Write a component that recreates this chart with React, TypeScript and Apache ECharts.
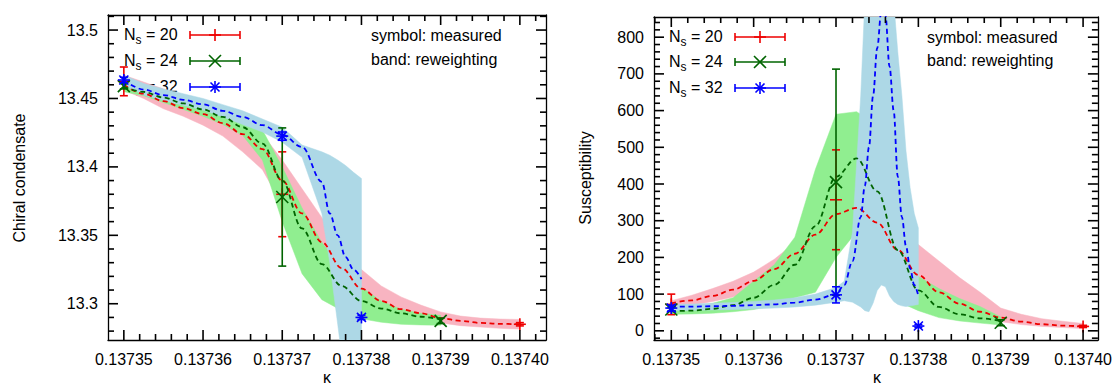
import React, { useEffect, useRef } from 'react';
import * as echarts from 'echarts';

const FONT = 'Liberation Sans';

// ---------------- kappa grids ----------------
const kappa20 = [0.13735, 0.1373525, 0.137355, 0.1373575, 0.13736, 0.1373625, 0.137365, 0.1373675, 0.13737, 0.1373725, 0.137375, 0.1373775, 0.13738, 0.1373825, 0.137385, 0.1373875, 0.13739, 0.1373925, 0.137395, 0.1373975, 0.1374];
const kappa24 = [0.13735, 0.1373525, 0.137355, 0.1373575, 0.13736, 0.1373625, 0.137365, 0.1373675, 0.13737, 0.1373725, 0.137375, 0.1373775, 0.13738, 0.1373825, 0.137385, 0.1373875, 0.13739];
const kappa32L = [0.13735, 0.1373525, 0.137355, 0.1373575, 0.13736, 0.1373625, 0.137365, 0.1373675, 0.13737, 0.1373725, 0.137375, 0.137376, 0.137377, 0.137378, 0.137379, 0.13738];
const kappa32R = [0.13735, 0.1373525, 0.137355, 0.1373575, 0.13736, 0.1373625, 0.137365, 0.1373675, 0.13737, 0.137371, 0.137372, 0.137373, 0.1373735, 0.137374, 0.1373745, 0.137375, 0.1373755, 0.137376, 0.1373765, 0.137377, 0.1373775, 0.137378, 0.1373785, 0.137379, 0.1373795, 0.13738];

// major tick values (four minor ticks between neighbours)
const kappaTicks = [0.13735, 0.13736, 0.13737, 0.13738, 0.13739, 0.1374];
const condTicks = [13.3, 13.35, 13.4, 13.45, 13.5];
const suscTicks = [0, 100, 200, 300, 400, 500, 600, 700, 800];

// ---------------- left panel: chiral condensate ----------------
const condLine20 = [13.46, 13.4535, 13.448, 13.443, 13.4385, 13.432, 13.424, 13.413, 13.39, 13.366, 13.345, 13.326, 13.311, 13.302, 13.296, 13.293, 13.2895, 13.2875, 13.286, 13.2853, 13.285];
const condLo20 = [13.456, 13.45, 13.4425, 13.437, 13.4305, 13.4225, 13.411, 13.398, 13.372, 13.348, 13.33, 13.313, 13.3, 13.294, 13.29, 13.288, 13.286, 13.284, 13.283, 13.282, 13.2815];
const condHi20 = [13.467, 13.462, 13.457, 13.452, 13.447, 13.441, 13.434, 13.424, 13.405, 13.384, 13.363, 13.343, 13.325, 13.313, 13.305, 13.299, 13.294, 13.291, 13.2895, 13.2888, 13.2885];
const condLine24 = [13.4585, 13.4548, 13.4507, 13.4464, 13.442, 13.4365, 13.429, 13.417, 13.39, 13.355, 13.329, 13.313, 13.302, 13.2965, 13.293, 13.2905, 13.2885];
const condLo24 = [13.455, 13.452, 13.447, 13.442, 13.437, 13.431, 13.423, 13.405, 13.36, 13.322, 13.303, 13.295, 13.289, 13.2865, 13.285, 13.2845, 13.2843];
const condHi24 = [13.462, 13.459, 13.455, 13.45, 13.4455, 13.441, 13.436, 13.427, 13.4, 13.37, 13.345, 13.325, 13.312, 13.302, 13.296, 13.293, 13.2915];
const condLine32 = [13.4635, 13.4565, 13.4525, 13.449, 13.4457, 13.441, 13.4365, 13.4305, 13.4235, 13.4145, 13.389, 13.366, 13.35, 13.334, 13.325, 13.318];
const condLo32 = [13.46, 13.4525, 13.4485, 13.445, 13.4415, 13.4365, 13.431, 13.4255, 13.418, 13.407, 13.366, 13.33, 13.285, 13.24, 13.2, 13.17];
const condHi32 = [13.467, 13.461, 13.457, 13.4535, 13.45, 13.4455, 13.441, 13.435, 13.429, 13.416, 13.411, 13.4085, 13.405, 13.401, 13.396, 13.3915];
// measured points: [kappa, value, error]
const condPts20 = [[0.13735, 13.4625, 0.0105], [0.13737, 13.38, 0.031], [0.1374, 13.285, 0.0012]];
const condPts24 = [[0.13735, 13.459, 0.002], [0.13737, 13.378, 0.0505], [0.13739, 13.2875, 0.002]];
const condPts32 = [[0.13735, 13.4635, 0.002], [0.13737, 13.4225, 0.003], [0.13738, 13.29, 0.0015]];

// ---------------- right panel: susceptibility ----------------
const suscLine20 = [75, 83, 95, 112, 136, 168, 210, 262, 318, 335, 295, 220, 152, 105, 74, 52, 36, 25, 18, 14, 12];
const suscLo20 = [64, 70, 80, 92, 108, 128, 158, 200, 265, 282, 262, 165, 115, 80, 55, 40, 25, 17, 12, 9, 6];
const suscHi20 = [82, 97, 115, 135, 160, 195, 240, 300, 355, 360, 335, 290, 235, 190, 145, 105, 62, 45, 33, 26, 20];
const suscLine24 = [53, 55, 60, 70, 90, 125, 180, 285, 420, 470, 380, 220, 110, 65, 45, 34, 27];
const suscLo24 = [45, 46, 48, 52, 58, 70, 90, 105, 200, 270, 200, 80, 55, 36, 27, 21, 16];
const suscHi24 = [62, 66, 75, 90, 135, 180, 255, 440, 590, 597, 560, 260, 148, 115, 88, 66, 38];
const suscLine32 = [66, 66, 67, 68, 70, 72, 77, 85, 100, 125, 190, 310, 395, 500, 640, 770, 870, 860, 720, 600, 420, 310, 230, 170, 125, 95];
const suscLo32 = [55, 56, 57, 58, 60, 62, 65, 70, 78, 82, 78, 65, 55, 52, 75, 110, 125, 120, 95, 80, 72, 68, 66, 68, 70, 72];
const suscHi32 = [72, 73, 75, 77, 80, 84, 90, 100, 118, 135, 270, 640, 900, 900, 900, 900, 900, 900, 900, 900, 760, 640, 490, 390, 320, 280];
const suscPts20 = [[0.13735, 72, 28], [0.13737, 357, 136], [0.1374, 12, 3]];
const suscPts24 = [[0.13735, 58, 5], [0.13737, 405, 308], [0.13739, 22, 8]];
const suscPts32 = [[0.13735, 62, 8], [0.13737, 98, 22], [0.13738, 13, 4]];

// legend / labels
const legendNs = [20, 24, 32];
const legendSymbols = ['+', 'x', '*'];
const lineColors = ['#ee0000', '#006400', '#0000ff'];
const bandColors = ['#f8b4c1', '#90ee90', '#add8e6'];
const noteLines = ['symbol: measured', 'band: reweighting'];
const yTitles = ['Chiral condensate', 'Susceptibility'];
const xTitle = 'κ';

function symSegs(kind: string, cx: number, cy: number, r: number) {
  const plus = [[cx - r, cy, cx + r, cy], [cx, cy - r, cx, cy + r]];
  const rr = kind === '*' ? r * 0.75 : r;
  const cross = [[cx - rr, cy - rr, cx + rr, cy + rr], [cx - rr, cy + rr, cx + rr, cy - rr]];
  if (kind === '+') return plus;
  if (kind === 'x') return cross;
  return plus.concat(cross);
}

function segEl(s: number[], color: string, w: number) {
  return { type: 'line', shape: { x1: s[0], y1: s[1], x2: s[2], y2: s[3] }, style: { stroke: color, lineWidth: w, fill: null } };
}

function bandSeries(k: number[], lo: number[], hi: number[], color: string, ax: number) {
  return {
    type: 'custom', xAxisIndex: ax, yAxisIndex: ax, clip: true, silent: true, z: 2,
    data: k.map((x, i) => [x, lo[i], hi[i]]),
    renderItem: (params: any, api: any) => {
      if (params.dataIndex !== 0) return null;
      const pts: number[][] = [];
      for (let i = 0; i < k.length; i++) pts.push(api.coord([k[i], hi[i]]));
      for (let i = k.length - 1; i >= 0; i--) pts.push(api.coord([k[i], lo[i]]));
      return { type: 'polygon', shape: { points: pts }, style: { fill: color, stroke: color, lineWidth: 0.5 } };
    },
  };
}

function lineSeries(k: number[], v: number[], color: string, ax: number) {
  return {
    type: 'line', xAxisIndex: ax, yAxisIndex: ax, silent: true, z: 4, clip: true,
    data: k.map((x, i) => [x, v[i]]),
    showSymbol: false, symbol: 'none', smooth: 0.35, smoothMonotone: 'x',
    lineStyle: { color, width: 1.8, type: [5, 3.5] },
  };
}

function pointSeries(pts: number[][], color: string, kind: string, ax: number) {
  return {
    type: 'custom', xAxisIndex: ax, yAxisIndex: ax, silent: true, z: 6,
    data: pts,
    renderItem: (params: any, api: any) => {
      const k = api.value(0), v = api.value(1), e = api.value(2);
      const c = api.coord([k, v]);
      const t = api.coord([k, v + e]);
      const b = api.coord([k, v - e]);
      const segs = [
        [c[0], t[1], c[0], b[1]],
        [c[0] - 4, t[1], c[0] + 4, t[1]],
        [c[0] - 4, b[1], c[0] + 4, b[1]],
        ...symSegs(kind, c[0], c[1], 6),
      ];
      return { type: 'group', children: segs.map((s) => segEl(s, color, 1.6)) };
    },
  };
}

function tickRows(ticks: number[], lo: number, hi: number) {
  const step = (ticks[1] - ticks[0]) / 5;
  const out: number[][] = [];
  for (let j = -8; j <= (ticks.length - 1) * 5 + 8; j++) {
    const v = ticks[0] + j * step;
    if (v > lo && v < hi) out.push([v, j % 5 === 0 ? 1 : 0]);
  }
  return out;
}

// inward frame ticks on all four sides of one panel
function tickSeries(ax: number, xT: number[], yT: number[], xr: number[], yr: number[]) {
  const xs = tickRows(xT, xr[0], xr[1]);
  const ys = tickRows(yT, yr[0], yr[1]);
  return {
    type: 'custom', xAxisIndex: ax, yAxisIndex: ax, silent: true, z: 9,
    data: [[(xr[0] + xr[1]) / 2, (yr[0] + yr[1]) / 2]],
    renderItem: (params: any, api: any) => {
      const children: any[] = [];
      const bl = api.coord([xr[0], yr[0]]);
      const tr = api.coord([xr[1], yr[1]]);
      xs.forEach(([v, maj]) => {
        const px = api.coord([v, yr[0]])[0];
        const L = maj ? 10 : 6;
        children.push({ type: 'rect', shape: { x: px - 0.8, y: bl[1] - L, width: 1.6, height: L }, style: { fill: '#000' } });
        children.push({ type: 'rect', shape: { x: px - 0.8, y: tr[1], width: 1.6, height: L }, style: { fill: '#000' } });
      });
      ys.forEach(([v, maj]) => {
        const py = api.coord([xr[0], v])[1];
        const L = maj ? 10 : 6;
        children.push({ type: 'rect', shape: { x: bl[0], y: py - 0.8, width: L, height: 1.6 }, style: { fill: '#000' } });
        children.push({ type: 'rect', shape: { x: tr[0] - L, y: py - 0.8, width: L, height: 1.6 }, style: { fill: '#000' } });
      });
      return { type: 'group', children };
    },
  };
}

function axes(g: number, xr: number[], yr: number[], ySplit: number, yFmt: (v: number) => string) {
  const base = { type: 'value', gridIndex: g, splitLine: { show: false }, axisTick: { show: false }, minorTick: { show: false } };
  const line = { show: true, onZero: false, lineStyle: { color: '#000', width: 1.3 } };
  const lab = { color: '#000', fontSize: 16, fontFamily: FONT, showMinLabel: false, showMaxLabel: false };
  const xa = [
    { ...base, min: xr[0], max: xr[1], position: 'bottom', splitNumber: 5, axisLine: line, axisLabel: { ...lab, margin: 11, formatter: (v: number) => v.toFixed(5) } },
    { ...base, min: xr[0], max: xr[1], position: 'top', splitNumber: 5, axisLine: line, axisLabel: { show: false } },
  ];
  const ya = [
    { ...base, min: yr[0], max: yr[1], position: 'left', splitNumber: ySplit, axisLine: line, axisLabel: { ...lab, margin: 10, formatter: yFmt } },
    { ...base, min: yr[0], max: yr[1], position: 'right', splitNumber: ySplit, axisLine: line, axisLabel: { show: false } },
  ];
  return { xa, ya };
}

function legendGraphics(x: number, ys: number[], lx: number[], noteX: number, noteYs: number[]) {
  const els: any[] = [];
  ys.forEach((y, i) => {
    els.push({
      type: 'text', x, y: y - 1, z: 1,
      style: {
        text: `{n|N}{s|s}{n| = ${legendNs[i]}}`,
        verticalAlign: 'middle', align: 'left',
        rich: {
          n: { fontSize: 16, fontFamily: FONT, fill: '#000', lineHeight: 24 },
          s: { fontSize: 12, fontFamily: FONT, fill: '#000', lineHeight: 12, verticalAlign: 'bottom' },
        },
      },
    });
    const c = lineColors[i];
    const mid = (lx[0] + lx[1]) / 2;
    const segs = [[lx[0], y, lx[1], y], [lx[0], y - 4, lx[0], y + 4], [lx[1], y - 4, lx[1], y + 4], ...symSegs(legendSymbols[i], mid, y, 6)];
    segs.forEach((s) => els.push({ ...segEl(s, c, 1.6), z: 1 }));
  });
  noteLines.forEach((t, i) => {
    els.push({ type: 'text', x: noteX, y: noteYs[i], z: 1, style: { text: t, fontSize: 16, fontFamily: FONT, fill: '#000', verticalAlign: 'middle', align: 'left' } });
  });
  return els;
}

export default function App() {
  const ref = useRef<HTMLDivElement>(null);
  useEffect(() => {
    if (!ref.current) return;
    const chart = echarts.init(ref.current, null, { renderer: 'svg' });
    const xrL = [0.137348, 0.1374033], yrL = [13.2735, 13.511];
    const xrR = [0.1373479, 0.1374018], yrR = [-25, 855];
    const L = axes(0, xrL, yrL, 5, (v) => String(Number(v.toFixed(2))));
    const R = axes(1, xrR, yrR, 9, (v) => String(Math.round(v)));
    const series: any[] = [
      bandSeries(kappa20, condLo20, condHi20, bandColors[0], 0),
      bandSeries(kappa24, condLo24, condHi24, bandColors[1], 0),
      bandSeries(kappa32L, condLo32, condHi32, bandColors[2], 0),
      lineSeries(kappa20, condLine20, lineColors[0], 0),
      lineSeries(kappa24, condLine24, lineColors[1], 0),
      lineSeries(kappa32L, condLine32, lineColors[2], 0),
      pointSeries(condPts20, lineColors[0], '+', 0),
      pointSeries(condPts24, lineColors[1], 'x', 0),
      pointSeries(condPts32, lineColors[2], '*', 0),
      tickSeries(0, kappaTicks, condTicks, xrL, yrL),
      bandSeries(kappa20, suscLo20, suscHi20, bandColors[0], 2),
      bandSeries(kappa24, suscLo24, suscHi24, bandColors[1], 2),
      bandSeries(kappa32R, suscLo32, suscHi32, bandColors[2], 2),
      lineSeries(kappa20, suscLine20, lineColors[0], 2),
      lineSeries(kappa24, suscLine24, lineColors[1], 2),
      lineSeries(kappa32R, suscLine32, lineColors[2], 2),
      pointSeries(suscPts20, lineColors[0], '+', 2),
      pointSeries(suscPts24, lineColors[1], 'x', 2),
      pointSeries(suscPts32, lineColors[2], '*', 2),
      tickSeries(2, kappaTicks, suscTicks, xrR, yrR),
    ];
    const titles: any[] = [
      { type: 'text', x: 19, y: 178, rotation: Math.PI / 2, z: 1, style: { text: yTitles[0], fontSize: 16, fontFamily: FONT, fill: '#000', align: 'center', verticalAlign: 'middle' } },
      { type: 'text', x: 585, y: 178, rotation: Math.PI / 2, z: 1, style: { text: yTitles[1], fontSize: 16, fontFamily: FONT, fill: '#000', align: 'center', verticalAlign: 'middle' } },
      { type: 'text', x: 327, y: 377, z: 1, style: { text: xTitle, fontSize: 16, fontFamily: FONT, fill: '#000', align: 'center', verticalAlign: 'middle' } },
      { type: 'text', x: 877, y: 377, z: 1, style: { text: xTitle, fontSize: 16, fontFamily: FONT, fill: '#000', align: 'center', verticalAlign: 'middle' } },
    ];
    chart.setOption({
      animation: false,
      backgroundColor: '#fff',
      grid: [
        { left: 108, top: 15, width: 438, height: 325, containLabel: false },
        { left: 654, top: 17, width: 446, height: 323, containLabel: false },
      ],
      xAxis: [...L.xa, ...R.xa],
      yAxis: [...L.ya, ...R.ya],
      series,
      graphic: [
        ...titles,
        ...legendGraphics(124, [35, 61, 87], [190, 240], 371, [35, 59]),
        ...legendGraphics(669, [37, 62, 88], [735, 785], 927, [37, 60]),
      ],
    });
    return () => chart.dispose();
  }, []);
  return <div ref={ref} style={{ position: 'absolute', left: 0, top: 0, width: 1115, height: 387 }} />;
}
